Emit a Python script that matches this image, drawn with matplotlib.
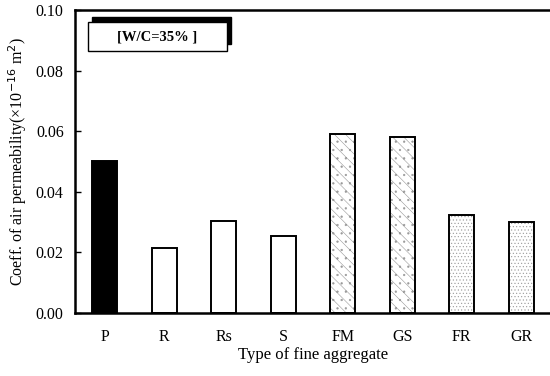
import matplotlib
matplotlib.use("Agg")
import matplotlib.pyplot as plt
from matplotlib.patches import Rectangle

plt.rcParams['font.family'] = ['Liberation Serif', 'DejaVu Serif']
plt.rcParams['hatch.linewidth'] = 0.4

categories = ['P', 'R', 'Rs', 'S', 'FM', 'GS', 'FR', 'GR']
values = [0.050, 0.0215, 0.0302, 0.0254, 0.0590, 0.0582, 0.0324, 0.0300]
fills = ['black', 'white', 'white', 'white', 'white', 'white', 'white', 'white']
hatches = ['', '', '', '', '\\\\\\..', '\\\\\\..', '.....', '.....']

fig = plt.figure(figsize=(5.5, 3.76), dpi=100)
ax = fig.add_axes([0.136, 0.168, 0.866, 0.805])

x = range(len(categories))
bars = ax.bar(x, values, width=0.42, color=fills, edgecolor='black', linewidth=1.4)
for b, h in zip(bars, hatches):
    if h:
        b.set_hatch(h)
        b._hatch_color = (0.6, 0.6, 0.6, 1.0)

ax.set_xlim(-0.5, 7.5)
ax.set_ylim(0, 0.10)
ax.set_yticks([0.00, 0.02, 0.04, 0.06, 0.08, 0.10])
ax.set_yticklabels(['0.00', '0.02', '0.04', '0.06', '0.08', '0.10'])
ax.set_xticks(list(x))
ax.set_xticklabels(categories)
ax.tick_params(axis='y', direction='in', length=4, width=1, labelsize=11.5, pad=8)
ax.tick_params(axis='x', length=0, labelsize=11.5, pad=12)
for s in ['left', 'bottom', 'top', 'right']:
    ax.spines[s].set_linewidth(1.8)

ax.set_xlabel('Type of fine aggregate', fontsize=12, labelpad=1)
ax.set_ylabel('Coeff. of air permeability(×10$^{-16}$ m$^2$)', fontsize=11.5, labelpad=5)

# legend-like box with shadow
shadow = Rectangle((92, 332), 139, 27, transform=None, facecolor='black',
                   edgecolor='black', zorder=5)
box = Rectangle((88, 325), 139, 29, transform=None, facecolor='white',
                edgecolor='black', linewidth=1, zorder=6)
fig.patches.extend([shadow, box])
fig.text(157 / 550, (376 - 37) / 376, '[W/C=35% ]', ha='center', va='center',
         fontsize=10.5, fontweight='bold', zorder=7)

fig.savefig('out.png', dpi=100)
